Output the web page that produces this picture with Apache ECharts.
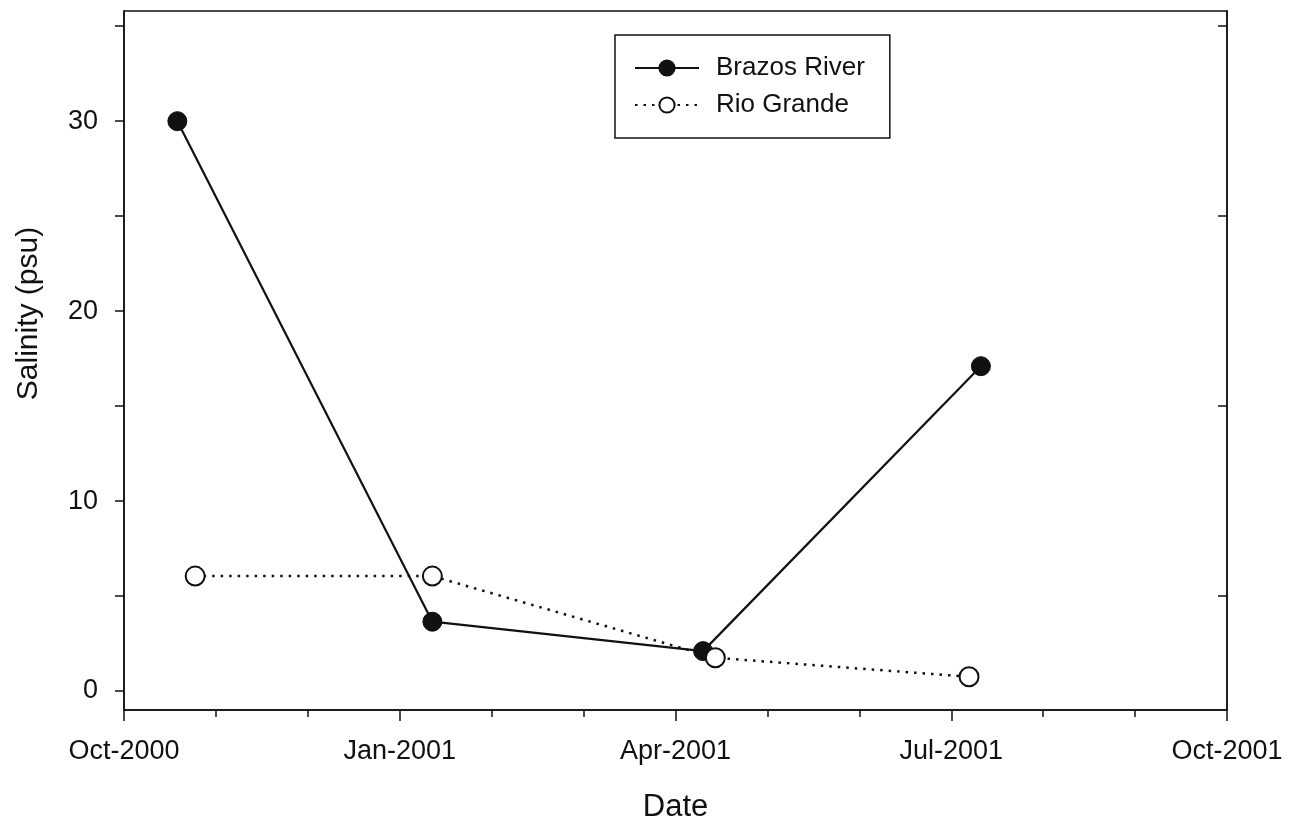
<!DOCTYPE html>
<html lang="en">

<head>
  <meta charset="UTF-8">
  <title>Salinity</title>
  <script src="https://cdn.jsdelivr.net/npm/echarts@6/dist/echarts.min.js"></script>
  <style>
    html,
    body {
      margin: 0;
      padding: 0;
      width: 100%;
      height: 100%;
      background: #fff;
    }

    #chart {
      width: 1299px;
      height: 828px;
    }
  </style>
</head>

<body>
  <div id="chart"></div>

  <script>
    // sampling dates and salinity (psu)
    const brazosDates = ['2000-10-19', '2001-01-12', '2001-04-10', '2001-07-11'];
    const brazosSalinity = [30.0, 3.65, 2.1, 17.1];
    const rioDates = ['2000-10-25', '2001-01-12', '2001-04-14', '2001-07-07'];
    const rioSalinity = [6.05, 6.05, 1.75, 0.75];

    // x tick labels every 3 months, starting Oct-2000
    const xTickLabels = ['Oct-2000', 'Jan-2001', 'Apr-2001', 'Jul-2001', 'Oct-2001'];
    const yLabelValues = [0, 10, 20, 30];
    const yLeftTicks = [0, 5, 10, 15, 20, 25, 30, 35];
    const yRightTicks = [5, 15, 25, 35];

    // months elapsed since 1 Oct 2000
    function monthsSinceOct2000(str) {
      const [y, m, d] = str.split('-').map(Number);
      const daysInMonth = new Date(y, m, 0).getDate();
      return (y - 2000) * 12 + (m - 10) + (d - 1) / daysInMonth;
    }

    const font = 'Liberation Sans, Arial, Helvetica, sans-serif';
    const black = '#111';

    const chart = echarts.init(document.getElementById('chart'), null, { renderer: 'canvas' });

    const option = {
      backgroundColor: '#fff',
      animation: false,
      grid: {
        left: 124,
        right: 72,
        top: 11,
        bottom: 117,
        show: true,
        borderColor: black,
        borderWidth: 1.5,
        backgroundColor: 'transparent'
      },
      legend: {
        left: 615,
        top: 35,
        orient: 'vertical',
        backgroundColor: '#fff',
        borderColor: black,
        borderWidth: 1.5,
        borderRadius: 0,
        padding: [18, 25, 18, 19],
        itemGap: 7,
        itemWidth: 64,
        itemHeight: 19,
        textStyle: {
          fontFamily: font,
          fontSize: 26,
          color: black,
          lineHeight: 30,
          padding: [0, 0, 0, 12]
        },
        data: ['Brazos River', 'Rio Grande']
      },
      xAxis: {
        type: 'value',
        min: 0,
        max: 12,
        interval: 3,
        axisLine: { show: true, onZero: false, lineStyle: { color: black, width: 1.5 } },
        axisTick: { show: true, length: 11, lineStyle: { color: black, width: 1.5 } },
        minorTick: { show: true, splitNumber: 3, length: 7, lineStyle: { color: black, width: 1.5 } },
        splitLine: { show: false },
        axisLabel: {
          margin: 28,
          fontFamily: font,
          fontSize: 27,
          color: black,
          formatter: v => xTickLabels[Math.round(v / 3)]
        },
        name: 'Date',
        nameLocation: 'middle',
        nameGap: 82,
        nameTextStyle: { fontFamily: font, fontSize: 31, color: black }
      },
      yAxis: [{
        type: 'value',
        min: -1,
        max: 35.8,
        axisLine: { show: true, onZero: false, lineStyle: { color: black, width: 1.5 } },
        axisTick: {
          show: true,
          length: 9,
          customValues: yLeftTicks,
          lineStyle: { color: black, width: 1.5 }
        },
        splitLine: { show: false },
        axisLabel: {
          margin: 26,
          fontFamily: font,
          fontSize: 27,
          color: black,
          customValues: yLabelValues
        },
        name: 'Salinity (psu)',
        nameLocation: 'middle',
        nameGap: 80,
        nameTextStyle: {
          fontFamily: font,
          fontSize: 30,
          color: black,
          padding: [0, 0, 0, 94]
        }
      }, {
        type: 'value',
        position: 'right',
        min: -1,
        max: 35.8,
        axisLine: { show: true, onZero: false, lineStyle: { color: black, width: 1.5 } },
        axisTick: {
          show: true,
          inside: true,
          length: 9,
          customValues: yRightTicks,
          lineStyle: { color: black, width: 1.5 }
        },
        splitLine: { show: false },
        axisLabel: { show: false }
      }],
      series: [{
        name: 'Brazos River',
        type: 'line',
        data: brazosDates.map((d, i) => [monthsSinceOct2000(d), brazosSalinity[i]]),
        symbol: 'circle',
        symbolSize: 19,
        lineStyle: { color: black, width: 2.2 },
        itemStyle: { color: black, borderColor: black, borderWidth: 1 },
        z: 2
      }, {
        name: 'Rio Grande',
        type: 'line',
        data: rioDates.map((d, i) => [monthsSinceOct2000(d), rioSalinity[i]]),
        symbol: 'circle',
        symbolSize: 19,
        lineStyle: { color: black, width: 2.5, type: [2.5, 6] },
        itemStyle: { color: '#fff', borderColor: black, borderWidth: 2 },
        z: 3
      }]
    };

    chart.setOption(option);
  </script>
</body>

</html>
